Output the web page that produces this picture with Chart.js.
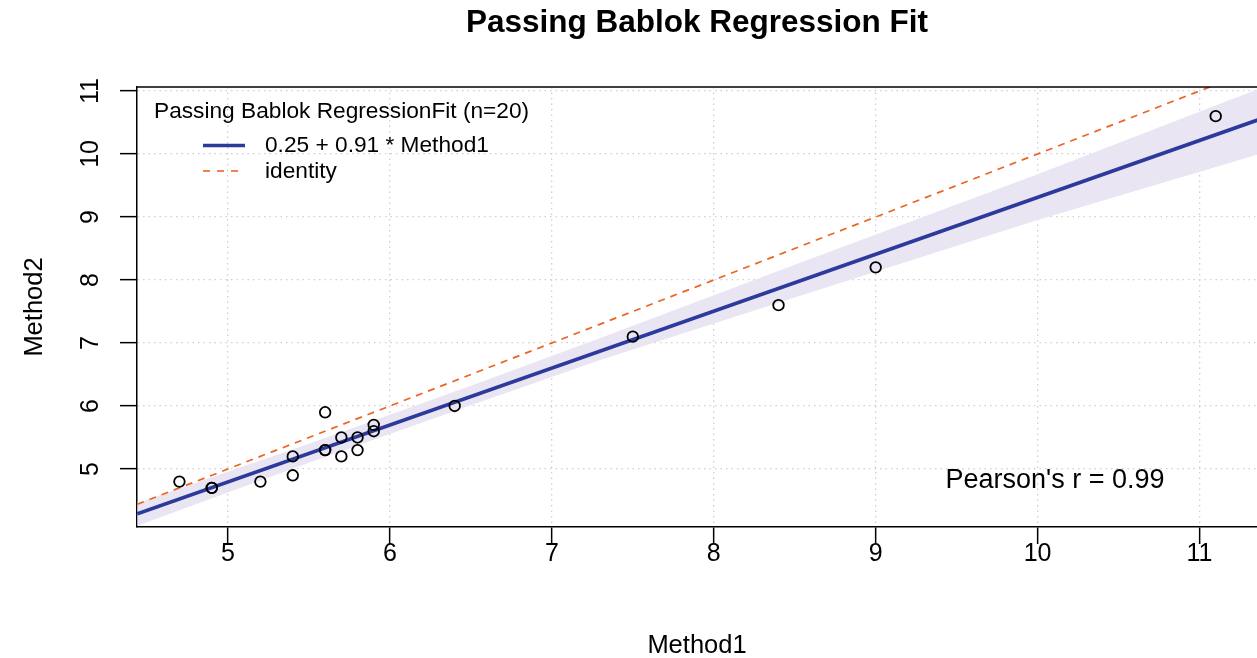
<!DOCTYPE html>
<html>
<head>
<meta charset="utf-8">
<script src="https://cdn.jsdelivr.net/npm/chart.js@4.4.1/dist/chart.umd.min.js"></script>
<style>
  html, body { margin: 0; padding: 0; background: #fff; }
  #wrap { width: 1257px; height: 658px; }
</style>
</head>
<body>
<div id="wrap"><canvas id="pbChart" width="1257" height="658"></canvas></div>
<script>
// --- data ------------------------------------------------------
const method1 = [4.7, 4.9, 4.9, 5.2, 5.4, 5.4, 5.6, 5.6, 5.6, 5.7, 5.7, 5.8, 5.8, 5.9, 5.9, 6.4, 7.5, 8.4, 9.0, 11.1];
const method2 = [4.8, 4.7, 4.7, 4.8, 5.2, 4.9, 5.9, 5.3, 5.3, 5.5, 5.2, 5.5, 5.3, 5.7, 5.6, 6.0, 7.1, 7.6, 8.2, 10.6];

const fitX = [4.44, 11.36];
const fitY = [4.29, 10.54];
const identX = [4.44, 11.36];
const identY = [4.44, 11.36];

const bandX = [4.44, 5.5, 6.5, 7.3, 8.5, 10, 11.36];
const bandUpper = [4.46, 5.40, 6.32, 7.08, 8.24, 9.68, 11.03];
const bandLower = [4.10, 5.10, 6.01, 6.73, 7.72, 8.95, 9.99];

const xTicks = [5, 6, 7, 8, 9, 10, 11];
const yTicks = [5, 6, 7, 8, 9, 10, 11];

const titleText = 'Passing Bablok Regression Fit';
const legendTitle = 'Passing Bablok RegressionFit (n=20)';
const legendLabels = ['0.25 + 0.91 * Method1', 'identity'];
const pearsonText = "Pearson's r = 0.99";

// --- colours -------------------------------------------------------
const FONT = '"Liberation Sans", Arial, Helvetica, sans-serif';
const blue = '#2b3a9b';
const orange = '#ec6424';
const bandColor = '#e9e5f3';
const gridColor = '#cfcfcf';

const pts = (xs, ys) => xs.map((x, i) => ({ x: x, y: ys[i] }));

// R-style text, box and legend drawn on top of the chart
const decor = {
  id: 'decor',
  afterDraw(chart) {
    const { ctx, chartArea: a, scales: { x, y } } = chart;
    ctx.save();

    // top edge of the plot box
    ctx.strokeStyle = '#000';
    ctx.lineWidth = 1.5;
    ctx.beginPath();
    ctx.moveTo(a.left, a.top);
    ctx.lineTo(a.right, a.top);
    ctx.stroke();

    ctx.fillStyle = '#000';

    // title
    ctx.font = 'bold 31.5px ' + FONT;
    ctx.textAlign = 'center';
    ctx.textBaseline = 'alphabetic';
    ctx.fillText(titleText, (a.left + a.right) / 2, 32);

    // x tick labels
    ctx.font = '25px ' + FONT;
    x.ticks.forEach(t => ctx.fillText(String(t.value), x.getPixelForValue(t.value), 561));

    // y tick labels, rotated like R
    y.ticks.forEach(t => {
      ctx.save();
      ctx.translate(98, y.getPixelForValue(t.value));
      ctx.rotate(-Math.PI / 2);
      ctx.fillText(String(t.value), 0, 0);
      ctx.restore();
    });

    // axis titles
    ctx.font = '25.5px ' + FONT;
    ctx.fillText('Method1', (a.left + a.right) / 2, 653);
    ctx.save();
    ctx.translate(42, (a.top + a.bottom) / 2);
    ctx.rotate(-Math.PI / 2);
    ctx.fillText('Method2', 0, 0);
    ctx.restore();

    // pearson
    ctx.font = '27px ' + FONT;
    ctx.fillText(pearsonText, 1055, 488);

    // legend
    ctx.font = '22.7px ' + FONT;
    ctx.textAlign = 'left';
    ctx.textBaseline = 'middle';
    ctx.fillText(legendTitle, 154, 112);
    ctx.fillText(legendLabels[0], 265, 146);
    ctx.fillText(legendLabels[1], 265, 172);

    ctx.strokeStyle = blue;
    ctx.lineWidth = 3.5;
    ctx.beginPath();
    ctx.moveTo(203, 145.5);
    ctx.lineTo(245, 145.5);
    ctx.stroke();

    ctx.strokeStyle = orange;
    ctx.lineWidth = 1.6;
    ctx.setLineDash([7, 7]);
    ctx.beginPath();
    ctx.moveTo(203, 171);
    ctx.lineTo(245, 171);
    ctx.stroke();

    ctx.restore();
  }
};

const axisGrid = {
  color: gridColor,
  lineWidth: 1.3,
  drawTicks: true,
  tickLength: 17,
  tickColor: '#000',
  tickWidth: 1.5,
  tickBorderDash: []
};
const axisBorder = { display: true, color: '#000', width: 1.5, dash: [1.5, 4] };

const noPad = s => { s.paddingLeft = 0; s.paddingRight = 0; s.paddingTop = 0; s.paddingBottom = 0; };

new Chart(document.getElementById('pbChart'), {
  type: 'scatter',
  data: {
    datasets: [
      {
        label: 'data',
        data: pts(method1, method2),
        pointRadius: 5.3,
        pointHoverRadius: 5.3,
        borderColor: '#000',
        borderWidth: 1.8,
        backgroundColor: 'rgba(0,0,0,0)'
      },
      {
        label: legendLabels[0],
        data: pts(fitX, fitY),
        showLine: true,
        pointRadius: 0,
        borderColor: blue,
        borderWidth: 3.6,
        clip: 0
      },
      {
        label: legendLabels[1],
        data: pts(identX, identY),
        showLine: true,
        pointRadius: 0,
        borderColor: orange,
        borderWidth: 1.7,
        borderDash: [7, 6],
        clip: 0
      },
      {
        label: 'upper',
        data: pts(bandX, bandUpper),
        showLine: true,
        pointRadius: 0,
        borderColor: 'rgba(0,0,0,0)',
        backgroundColor: bandColor,
        fill: '+1',
        clip: 0
      },
      {
        label: 'lower',
        data: pts(bandX, bandLower),
        showLine: true,
        pointRadius: 0,
        borderColor: 'rgba(0,0,0,0)',
        fill: false,
        clip: 0
      }
    ]
  },
  options: {
    responsive: false,
    animation: false,
    devicePixelRatio: 1,
    layout: { autoPadding: false, padding: { top: 87, right: 0, bottom: 0, left: 0 } },
    plugins: {
      legend: { display: false },
      tooltip: { enabled: false },
      title: { display: false }
    },
    scales: {
      x: {
        type: 'linear',
        min: 4.438,
        max: 11.355,
        afterBuildTicks: s => { s.ticks = xTicks.map(v => ({ value: v })); },
        afterFit: s => { s.height = 131; noPad(s); },
        ticks: { display: false },
        grid: axisGrid,
        border: axisBorder
      },
      y: {
        type: 'linear',
        min: 4.079,
        max: 11.063,
        afterBuildTicks: s => { s.ticks = yTicks.map(v => ({ value: v })); },
        afterFit: s => { s.width = 137; noPad(s); },
        ticks: { display: false },
        grid: axisGrid,
        border: axisBorder
      }
    }
  },
  plugins: [decor]
});
</script>
</body>
</html>
